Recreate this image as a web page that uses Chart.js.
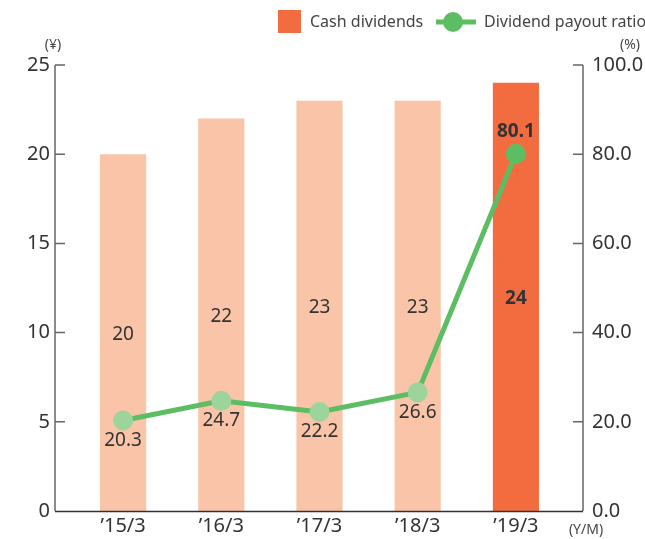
<!DOCTYPE html>
<html>
<head>
<meta charset="utf-8">
<script src="https://cdn.jsdelivr.net/npm/chart.js@4"></script>
<style>
  html, body { margin: 0; padding: 0; background: #fff; }
  #wrap { width: 645px; height: 539px; position: relative; }
</style>
</head>
<body>
<div id="wrap"><canvas id="chart" width="645" height="539"></canvas></div>
<script>
const categories = ['\u201915/3', '\u201916/3', '\u201917/3', '\u201918/3', '\u201919/3'];
const cashDividends = [20, 22, 23, 23, 24];
const payoutRatio = [20.3, 24.7, 22.2, 26.6, 80.1];
const leftTicks = [0, 5, 10, 15, 20, 25];
const rightTicks = [0, 20, 40, 60, 80, 100];

const FONT = "'Noto Sans', 'Open Sans', sans-serif";
const barLight = '#f9c4a8';
const barDark = '#f26c40';
const lineGreen = '#5dbd63';
const pointLight = '#9dd49c';
const last = categories.length - 1;

// axes frame, legend, units and value labels
const decor = {
  id: 'decor',
  afterDraw(chart) {
    const ctx = chart.ctx;
    const y = chart.scales.y;
    const y1 = chart.scales.y1;
    const area = chart.chartArea;
    const lx = area.left - 19, rx = area.right + 18;
    const top = y.getPixelForValue(25), bottom = y.getPixelForValue(0);

    ctx.save();
    ctx.strokeStyle = '#666';
    ctx.lineWidth = 1.5;
    ctx.beginPath();
    ctx.moveTo(lx, top); ctx.lineTo(lx, bottom);
    leftTicks.forEach(v => {
      if (v === 0) return;
      const p = y.getPixelForValue(v);
      ctx.moveTo(lx, p); ctx.lineTo(lx + 10, p);
    });
    ctx.moveTo(rx, top); ctx.lineTo(rx, bottom);
    rightTicks.forEach(v => {
      if (v === 0) return;
      const p = y1.getPixelForValue(v);
      ctx.moveTo(rx, p); ctx.lineTo(rx - 10, p);
    });
    ctx.stroke();
    ctx.strokeStyle = '#333';
    ctx.beginPath();
    ctx.moveTo(lx, bottom + 0.5); ctx.lineTo(rx, bottom + 0.5);
    ctx.stroke();

    // unit labels
    ctx.fillStyle = '#444';
    ctx.font = '14px ' + FONT;
    ctx.textBaseline = 'middle';
    ctx.textAlign = 'center';
    ctx.fillText('(\u00a5)', 53, 45);
    ctx.fillText('(%)', 630, 45);
    ctx.fillText('(Y/M)', 586, 530);

    // bar value labels
    const barMeta = chart.getDatasetMeta(0);
    barMeta.data.forEach((bar, i) => {
      ctx.font = (i === last ? 'bold ' : '') + '19px ' + FONT;
      ctx.fillStyle = '#333';
      ctx.fillText(String(cashDividends[i]), bar.x, (bar.y + bar.base) / 2 + 2);
    });

    // line value labels
    const lineMeta = chart.getDatasetMeta(1);
    lineMeta.data.forEach((pt, i) => {
      ctx.font = (i === last ? 'bold ' : '') + '19px ' + FONT;
      ctx.fillStyle = '#333';
      const dy = i === last ? -22 : 20;
      ctx.fillText(payoutRatio[i].toFixed(1), pt.x, pt.y + dy);
    });

    // legend
    ctx.fillStyle = barDark;
    ctx.fillRect(278, 10, 23, 23);
    ctx.font = '16px ' + FONT;
    ctx.fillStyle = '#444';
    ctx.textAlign = 'left';
    ctx.fillText('Cash dividends', 310, 22);
    ctx.strokeStyle = lineGreen;
    ctx.lineWidth = 5;
    ctx.beginPath();
    ctx.moveTo(436, 22); ctx.lineTo(476, 22);
    ctx.stroke();
    ctx.fillStyle = lineGreen;
    ctx.beginPath();
    ctx.arc(453, 22, 10, 0, Math.PI * 2);
    ctx.fill();
    ctx.fillStyle = '#444';
    ctx.fillText('Dividend payout ratio', 484, 22);
    ctx.restore();
  }
};

function fixWidth(w) {
  return function (scale) {
    scale.width = w;
    scale.paddingTop = 0;
    scale.paddingBottom = 0;
  };
}

new Chart(document.getElementById('chart'), {
  data: {
    labels: categories,
    datasets: [{
      type: 'bar',
      data: cashDividends,
      yAxisID: 'y',
      backgroundColor: cashDividends.map((v, i) => i === last ? barDark : barLight),
      categoryPercentage: 1,
      barPercentage: 0.47,
      order: 2
    }, {
      type: 'line',
      data: payoutRatio,
      yAxisID: 'y1',
      borderColor: lineGreen,
      borderWidth: 5,
      pointRadius: 10,
      pointBorderWidth: 0,
      pointBackgroundColor: payoutRatio.map((v, i) => i === last ? lineGreen : pointLight),
      tension: 0,
      order: 1
    }]
  },
  options: {
    responsive: false,
    animation: false,
    layout: { padding: { top: 65, left: 0, right: 0, bottom: 0 } },
    plugins: { legend: { display: false }, tooltip: { enabled: false } },
    scales: {
      x: {
        grid: { display: false, drawTicks: false },
        border: { display: false },
        ticks: { color: '#333', font: { family: FONT, size: 20 }, padding: 3 },
        afterFit(scale) { scale.height = 28; }
      },
      y: {
        position: 'left',
        min: 0, max: 25,
        grid: { display: false, drawTicks: false },
        border: { display: false },
        ticks: { stepSize: 5, color: '#333', font: { family: FONT, size: 20 }, padding: 24 },
        afterFit: fixWidth(74)
      },
      y1: {
        position: 'right',
        min: 0, max: 100,
        grid: { display: false, drawTicks: false },
        border: { display: false },
        ticks: {
          stepSize: 20, color: '#333', font: { family: FONT, size: 20 }, padding: 27,
          callback: v => v.toFixed(1)
        },
        afterFit: fixWidth(80)
      }
    }
  },
  plugins: [decor]
});
</script>
</body>
</html>
